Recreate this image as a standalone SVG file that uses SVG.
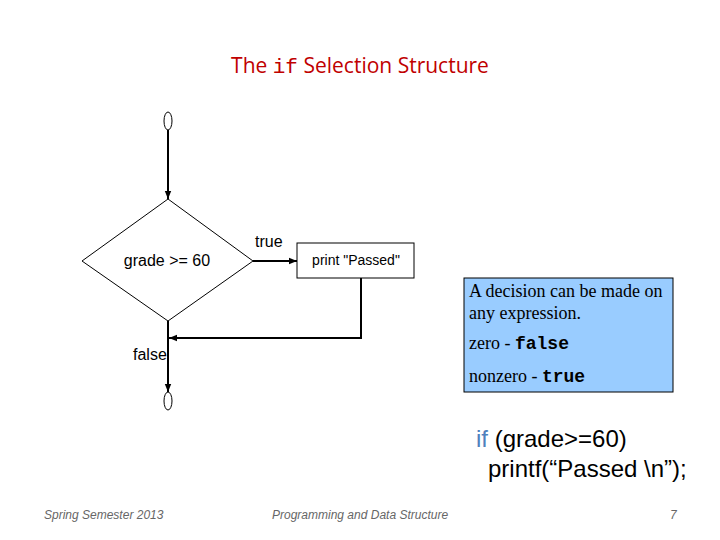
<svg xmlns="http://www.w3.org/2000/svg" width="720" height="540" viewBox="0 0 720 540">
<defs>
<style>
.ln{stroke:#000;stroke-width:2;fill:none}
.thin{stroke:#000;stroke-width:1;fill:#fff}
.sans{font-family:"Liberation Sans",Arial,sans-serif}
.fl{font-family:"Liberation Sans",Arial,sans-serif;font-size:16px;fill:#000}
.ser{font-family:"Liberation Serif","Times New Roman",serif;font-size:18px;fill:#000}
.mono{font-family:"Liberation Mono","Courier New",monospace;font-weight:bold;font-size:18px}
.foot{font-family:"Liberation Sans",Arial,sans-serif;font-size:12px;font-style:italic;fill:#666}
</style>
<marker id="ah" viewBox="0 0 10 10" refX="10" refY="5" markerWidth="4" markerHeight="4" orient="auto" markerUnits="strokeWidth">
<path d="M0,1 L10,5 L0,9 z" fill="#000"/>
</marker>
</defs>
<rect width="720" height="540" fill="#fff"/>
<text x="360" y="73" text-anchor="middle" font-family="'Open Sans','Liberation Sans',sans-serif" font-size="21" fill="#C00000">The <tspan font-family="'Liberation Mono',monospace" fill="#C00000">if</tspan> Selection Structure</text>

<g id="connectors">
<line class="ln" x1="168" y1="130" x2="168" y2="199" marker-end="url(#ah)"/>
<line class="ln" x1="253" y1="261" x2="297" y2="261" marker-end="url(#ah)"/>
<polyline class="ln" points="361,278 361,338 169,338" marker-end="url(#ah)"/>
<line class="ln" x1="168" y1="321" x2="168" y2="392" marker-end="url(#ah)"/>
</g>

<g id="start"><ellipse class="thin" cx="168" cy="121" rx="4" ry="9"/></g>
<g id="decision">
<polygon class="thin" points="168,199 253,261 168,321 82,261"/>
<text class="fl" x="167" y="266" text-anchor="middle">grade &gt;= 60</text>
</g>
<g id="print">
<rect class="thin" x="297" y="243" width="117" height="35"/>
<text class="sans" x="356" y="265" text-anchor="middle" font-size="14">print "Passed"</text>
</g>
<g id="end"><ellipse class="thin" cx="168" cy="401" rx="4" ry="9"/></g>
<text class="fl" x="255" y="247">true</text>
<text class="fl" x="133" y="360">false</text>

<g id="note">
<rect x="464" y="278" width="209" height="114" fill="#99CCFF" stroke="#000" stroke-width="1"/>
<text class="ser" x="469" y="297">A decision can be made on</text>
<text class="ser" x="469" y="319">any expression.</text>
<text class="ser" x="469" y="349">zero - <tspan class="mono">false</tspan></text>
<text class="ser" x="469" y="382">nonzero - <tspan class="mono">true</tspan></text>
</g>

<g id="code" class="sans" font-size="24">
<text x="476" y="447"><tspan fill="#4F81BD">if</tspan> (grade&gt;=60)</text>
<text x="488" y="477">printf(“Passed \n”);</text>
</g>

<text class="foot" x="44" y="519">Spring Semester 2013</text>
<text class="foot" x="272" y="519">Programming and Data Structure</text>
<text class="foot" x="670" y="519">7</text>
</svg>
